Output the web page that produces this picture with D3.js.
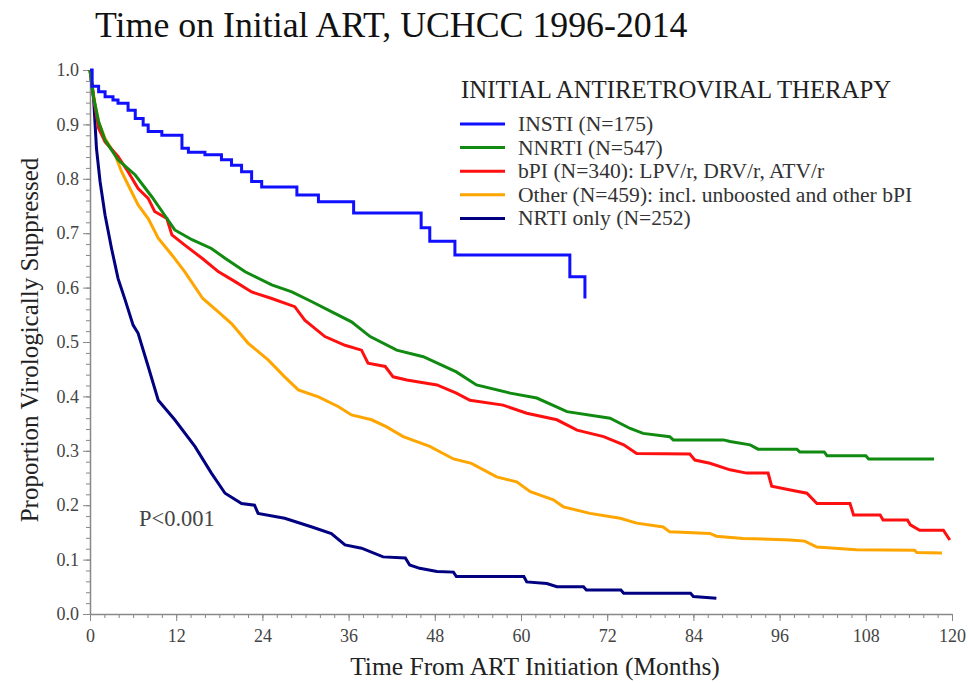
<!DOCTYPE html>
<html>
<head>
  <meta charset="utf-8">
  <script src="https://d3js.org/d3.v7.min.js"></script>
  <style>
    body { margin: 0; background: #fff; }
    text { font-family: "Liberation Serif", "Times New Roman", serif; }
  </style>
</head>
<body>
  <script>
    // Kaplan-Meier curves: [months, proportion]
    const insti = [[0,1],[0.3,0.97],[1.2,0.96],[2.1,0.951],[3.2,0.945],[3.9,0.939],[5.3,0.926],[6.3,0.911],
      [7.4,0.899],[8.1,0.887],[10,0.88],[12.8,0.856],[13.7,0.849],[16,0.844],[18.3,0.835],[19.7,0.825],
      [21.1,0.813],[22.5,0.795],[23.9,0.785],[28.8,0.77],[31.8,0.758],[36.7,0.737],[46.1,0.71],
      [47.3,0.685],[50.8,0.66],[66.8,0.62],[68.9,0.58]];

    const nnrti = [[0,1],[0.5,0.95],[1.2,0.905],[2.1,0.871],[3.9,0.835],[6.3,0.807],[8.6,0.767],[10.4,0.733],
      [11.8,0.706],[14.2,0.688],[16.9,0.672],[18.8,0.654],[21.6,0.629],[25.3,0.605],[28.1,0.592],[30.9,0.574],
      [33.6,0.556],[36.4,0.537],[39,0.51],[42.7,0.485],[46.4,0.473],[51,0.445],[53.8,0.421],[58.5,0.406],
      [62.2,0.397],[66.4,0.372],[72.4,0.36],[75.2,0.341],[77,0.332],[80.7,0.326],[81.2,0.32],[88.2,0.32],
      [89.1,0.317],[91.9,0.311],[93,0.303],[98.4,0.303],[98.8,0.298],[102.2,0.298],[102.6,0.291],[108,0.291],
      [108.4,0.285],[117.5,0.285]];

    const bpi = [[0,1],[0.5,0.95],[1.2,0.893],[2.1,0.868],[3.9,0.841],[5.3,0.813],[6.7,0.782],[8.1,0.764],
      [9,0.74],[10.7,0.727],[11.4,0.697],[13.2,0.678],[15.6,0.654],[17.9,0.629],[20.2,0.611],[22.5,0.592],
      [25.3,0.58],[28.5,0.565],[29.9,0.54],[32.7,0.51],[35.5,0.494],[37.8,0.485],[38.7,0.461],[41.1,0.455],
      [42.2,0.436],[44.1,0.43],[48.3,0.421],[51,0.406],[52.9,0.393],[57.5,0.384],[60.8,0.369],[65,0.357],
      [67.8,0.338],[71.5,0.326],[74.3,0.311],[76.1,0.295],[83.5,0.294],[84.2,0.283],[86.3,0.277],[89.1,0.265],
      [91.4,0.259],[94.4,0.259],[94.9,0.235],[97.5,0.228],[99.8,0.222],[101.2,0.203],[105.8,0.203],
      [106.3,0.182],[110,0.182],[110.4,0.173],[113.8,0.173],[114.2,0.164],[115.5,0.154],[118.8,0.154],
      [119.7,0.136]];

    const other = [[0,1],[0.7,0.936],[1.2,0.905],[2.1,0.874],[3.5,0.844],[4.4,0.813],[5.3,0.789],[6.7,0.752],
      [8.1,0.727],[9.5,0.691],[11.4,0.66],[13.2,0.629],[15.7,0.58],[17.9,0.555],[19.7,0.534],[22,0.498],
      [24.8,0.467],[27.1,0.436],[29,0.412],[31.8,0.399],[34.6,0.381],[36.4,0.366],[39.2,0.357],[41.3,0.344],
      [43.6,0.326],[47.3,0.308],[50.6,0.285],[53.1,0.277],[56.6,0.252],[59.4,0.243],[61.3,0.225],[64.5,0.21],
      [65.9,0.197],[69.6,0.185],[73.8,0.176],[76.1,0.167],[79.8,0.16],[80.7,0.151],[86.3,0.148],[87.2,0.143],
      [90.9,0.139],[97.5,0.136],[99.5,0.134],[101.2,0.123],[106.7,0.118],[114.8,0.117],[115.1,0.113],
      [118.6,0.112]];

    const nrti = [[0,1],[0.5,0.948],[0.9,0.856],[1.4,0.795],[2.1,0.733],[3,0.672],[3.9,0.617],[4.9,0.577],
      [6,0.531],[6.7,0.516],[8.1,0.455],[9.5,0.393],[11.8,0.357],[14.6,0.308],[16.9,0.259],[18.8,0.222],
      [21.1,0.203],[22.9,0.2],[23.4,0.185],[27.1,0.176],[30.9,0.16],[33.6,0.148],[35.5,0.127],[37.8,0.121],
      [40.8,0.105],[43.9,0.103],[44.5,0.09],[45.9,0.084],[48.3,0.078],[50.6,0.077],[51,0.069],[60.4,0.069],
      [60.8,0.059],[63.6,0.056],[65,0.05],[68.7,0.05],[69.1,0.044],[73.9,0.044],[74.3,0.038],[83.6,0.038],
      [84,0.032],[87.2,0.029]];

    const legendLabels = ["INSTI (N=175)", "NNRTI (N=547)", "bPI (N=340): LPV/r, DRV/r, ATV/r",
      "Other (N=459): incl. unboosted and other bPI", "NRTI only (N=252)"];
    const colors = ["#1010ff", "#108a10", "#ff1010", "#ffa500", "#000080"];
    const xTicks = d3.range(0, 121, 12);
    const yTicks = d3.range(0, 1.01, 0.1);

    const series = [
      {data: insti, step: true},
      {data: nnrti, step: false},
      {data: bpi, step: false},
      {data: other, step: false},
      {data: nrti, step: false}
    ];

    const width = 968, height = 683;
    const margin = {top: 70, right: 16, bottom: 69, left: 90};

    const svg = d3.select("body").append("svg")
      .attr("width", width)
      .attr("height", height);

    const x = d3.scaleLinear().domain([0, 120]).range([margin.left, width - margin.right]);
    const y = d3.scaleLinear().domain([0, 1]).range([height - margin.bottom, margin.top]);

    // title
    svg.append("text")
      .attr("x", 95).attr("y", 37)
      .attr("font-size", 35.8)
      .attr("fill", "#111")
      .text("Time on Initial ART, UCHCC 1996-2014");

    // minor ticks
    svg.append("g")
      .attr("transform", "translate(0," + y(0) + ")")
      .call(d3.axisBottom(x).tickValues(d3.range(0, 121, 2)).tickSize(4).tickFormat(""))
      .call(g => g.selectAll("line").attr("stroke", "#888"))
      .call(g => g.select(".domain").remove());
    svg.append("g")
      .attr("transform", "translate(" + x(0) + ",0)")
      .call(d3.axisLeft(y).tickValues(d3.range(0, 1.001, 0.02)).tickSize(4).tickFormat(""))
      .call(g => g.selectAll("line").attr("stroke", "#888"))
      .call(g => g.select(".domain").remove());

    // major axes
    const xAxis = svg.append("g")
      .attr("transform", "translate(0," + y(0) + ")")
      .call(d3.axisBottom(x).tickValues(xTicks).tickSize(7).tickSizeOuter(0).tickPadding(8));
    const yAxis = svg.append("g")
      .attr("transform", "translate(" + x(0) + ",0)")
      .call(d3.axisLeft(y).tickValues(yTicks).tickSize(7).tickSizeOuter(0).tickPadding(4).tickFormat(d3.format(".1f")));

    [xAxis, yAxis].forEach(a => {
      a.select(".domain").attr("stroke", "#888").attr("stroke-width", 1.5);
      a.selectAll("line").attr("stroke", "#888");
      a.selectAll("text")
        .attr("font-family", "Liberation Serif, serif")
        .attr("font-size", 18)
        .attr("fill", "#444");
    });

    // axis titles
    svg.append("text")
      .attr("transform", "translate(38," + (y(0.5) - 2) + ") rotate(-90)")
      .attr("text-anchor", "middle")
      .attr("font-size", 25)
      .attr("fill", "#222")
      .text("Proportion Virologically Suppressed");

    svg.append("text")
      .attr("x", 535).attr("y", 675)
      .attr("text-anchor", "middle")
      .attr("font-size", 25.5)
      .attr("fill", "#222")
      .text("Time From ART Initiation (Months)");

    // curves, drawn back to front
    const order = [4, 3, 2, 1, 0];
    order.forEach(i => {
      const s = series[i];
      const line = d3.line()
        .x(d => x(d[0]))
        .y(d => y(d[1]))
        .curve(s.step ? d3.curveStepAfter : d3.curveLinear);
      svg.append("path")
        .datum(s.data)
        .attr("fill", "none")
        .attr("stroke", colors[i])
        .attr("stroke-width", 3)
        .attr("stroke-linejoin", "miter")
        .attr("d", line);
    });

    svg.append("text")
      .attr("x", 139).attr("y", 526)
      .attr("font-size", 22.5)
      .attr("fill", "#444")
      .text("P<0.001");

    // legend
    const legend = svg.append("g");
    legend.append("text")
      .attr("x", 461).attr("y", 98)
      .attr("font-size", 24.8)
      .attr("fill", "#222")
      .text("INITIAL ANTIRETROVIRAL THERAPY");

    legendLabels.forEach((lab, i) => {
      const ly = 124 + i * 23.6;
      legend.append("line")
        .attr("x1", 460).attr("x2", 505)
        .attr("y1", ly).attr("y2", ly)
        .attr("stroke", colors[i])
        .attr("stroke-width", 3);
      legend.append("text")
        .attr("x", 518).attr("y", ly + 7)
        .attr("font-size", 21.6)
        .attr("fill", "#333")
        .text(lab);
    });
  </script>
</body>
</html>
